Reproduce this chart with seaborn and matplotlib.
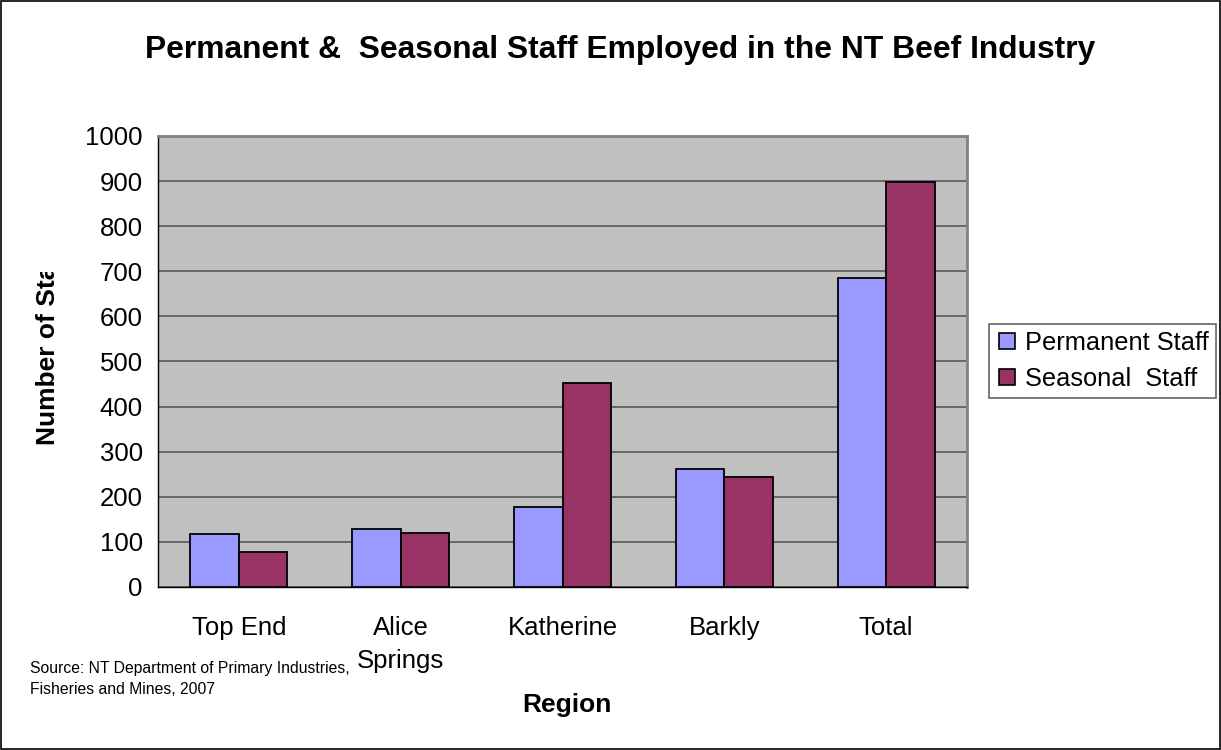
import matplotlib
matplotlib.use("Agg")
import matplotlib.pyplot as plt
import seaborn as sns
import pandas as pd
import numpy as np
from matplotlib.patches import Rectangle
from matplotlib.lines import Line2D

regions = ["Top End", "Alice\nSprings", "Katherine", "Barkly", "Total"]
permanent = [118, 128, 177, 261, 685]
seasonal = [78, 119, 452, 243, 899]
series = ["Permanent Staff", "Seasonal  Staff"]
colors = ["#9999FF", "#993366"]
yticks = list(range(0, 1001, 100))

df = pd.DataFrame({
    "Region": regions * 2,
    "Staff": permanent + seasonal,
    "Type": [series[0]] * len(regions) + [series[1]] * len(regions),
})

sns.set_style("white")
plt.rcParams["font.family"] = ["Liberation Sans", "DejaVu Sans"]
plt.rcParams["text.color"] = "black"
plt.rcParams["xtick.color"] = "black"
plt.rcParams["ytick.color"] = "black"
plt.rcParams["axes.labelcolor"] = "black"

fig = plt.figure(figsize=(12.21, 7.5), dpi=100)
fig.patch.set_facecolor("white")
ax = fig.add_axes([158 / 1221, 1 - 587 / 750, (967 - 158) / 1221, (587 - 136) / 750])
ax.set_facecolor("#C0C0C0")

sns.barplot(data=df, x="Region", y="Staff", hue="Type", palette=colors,
            edgecolor="black", linewidth=1.3, width=0.6, gap=0, ax=ax,
            legend=False, saturation=1, errorbar=None, zorder=3)

ax.set_ylim(0, 1000)
ax.set_xlim(-0.5, len(regions) - 0.5)
ax.set_yticks(yticks)
ax.set_yticklabels([str(v) for v in yticks], fontsize=18.5, color="black")
ax.tick_params(axis="y", length=5, width=1, color="black", direction="out", pad=6)
ax.yaxis.grid(True, color="#606060", linewidth=1.3, zorder=0)
ax.set_axisbelow(True)

ax.set_xticks(range(len(regions)))
ax.set_xticklabels(regions, fontsize=18.5, linespacing=1.45, color="black")
ax.tick_params(axis="x", length=0, pad=21)
ax.set_xticks(np.arange(-0.5, len(regions), 1.0), minor=True)
ax.tick_params(axis="x", which="minor", length=7, width=1, color="black", direction="out")

for s in ["top", "right"]:
    ax.spines[s].set_color("#808080")
    ax.spines[s].set_linewidth(2)
for s in ["left", "bottom"]:
    ax.spines[s].set_color("black")
    ax.spines[s].set_linewidth(1)

ax.set_xlabel("")
ax.set_ylabel("")

fig.text(620 / 1221, 1 - 50 / 750, "Permanent &  Seasonal Staff Employed in the NT Beef Industry",
         ha="center", va="center", fontsize=22.9, fontweight="bold", color="black")

fig.text(567 / 1221, 1 - 705 / 750, "Region", ha="center", va="center",
         fontsize=19, fontweight="bold", color="black")

ylab = fig.text(48 / 1221, 1 - 445 / 750, "Number of Staff", ha="center", va="bottom",
                rotation=90, fontsize=19, fontweight="bold", color="black")
clip = Rectangle((0, 1 - 445 / 750 - 0.02), 1, (445 - 272) / 750 + 0.02,
                 transform=fig.transFigure, facecolor="none", edgecolor="none")
fig.add_artist(clip)
ylab.set_clip_path(clip)

fig.text(30 / 1221, 1 - 668 / 750, "Source: NT Department of Primary Industries,",
         ha="left", va="center", fontsize=11.3, color="black")
fig.text(30 / 1221, 1 - 690 / 750, "Fisheries and Mines, 2007",
         ha="left", va="center", fontsize=11.3, color="black")

handles = [Line2D([0], [0], marker="s", linestyle="none", markersize=11,
                  markerfacecolor=c, markeredgecolor="black", markeredgewidth=1.2)
           for c in colors]
leg = fig.legend(handles, series, loc="center left",
                 bbox_to_anchor=(989 / 1221, 1 - 361 / 750), fontsize=18.3,
                 frameon=True, fancybox=False, edgecolor="#404040", handlelength=0.8,
                 handletextpad=0.3, borderpad=0.3, labelspacing=0.45, borderaxespad=0)
leg.get_frame().set_linewidth(1.2)
for t in leg.get_texts():
    t.set_color("black")

fig.add_artist(Rectangle((0.0008, 0.0013), 0.998, 0.997, transform=fig.transFigure,
                         facecolor="none", edgecolor="black", linewidth=1.2))

fig.savefig("out.png", dpi=100)
